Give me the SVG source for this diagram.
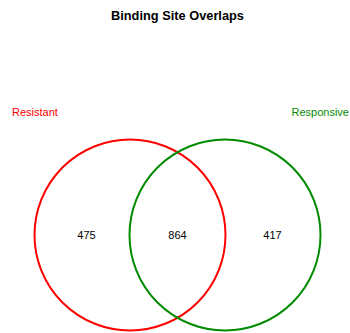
<svg xmlns="http://www.w3.org/2000/svg" width="350" height="333" viewBox="0 0 350 333">
<style>
text{font-family:"Liberation Sans",Arial,sans-serif;font-size:11px}
.c{fill:none;stroke-width:2}
.n{text-anchor:middle;fill:#000}
</style>
<rect width="350" height="333" fill="#fff"/>
<text x="177.5" y="19.5" text-anchor="middle" style="font-weight:bold;font-size:12.8px">Binding Site Overlaps</text>
<g id="resistant">
<circle class="c" cx="130" cy="235" r="95.5" stroke="#ff0000"/>
<text x="12" y="116" fill="#ff0000">Resistant</text>
</g>
<g id="responsive">
<circle class="c" cx="225" cy="235" r="95.5" stroke="#008b00"/>
<text x="349" y="116" fill="#008b00" text-anchor="end">Responsive</text>
</g>
<g id="connectors"></g>
<g id="counts">
<text class="n" x="86.5" y="239">475</text>
<text class="n" x="177.5" y="239">864</text>
<text class="n" x="272.5" y="239">417</text>
</g>
</svg>
